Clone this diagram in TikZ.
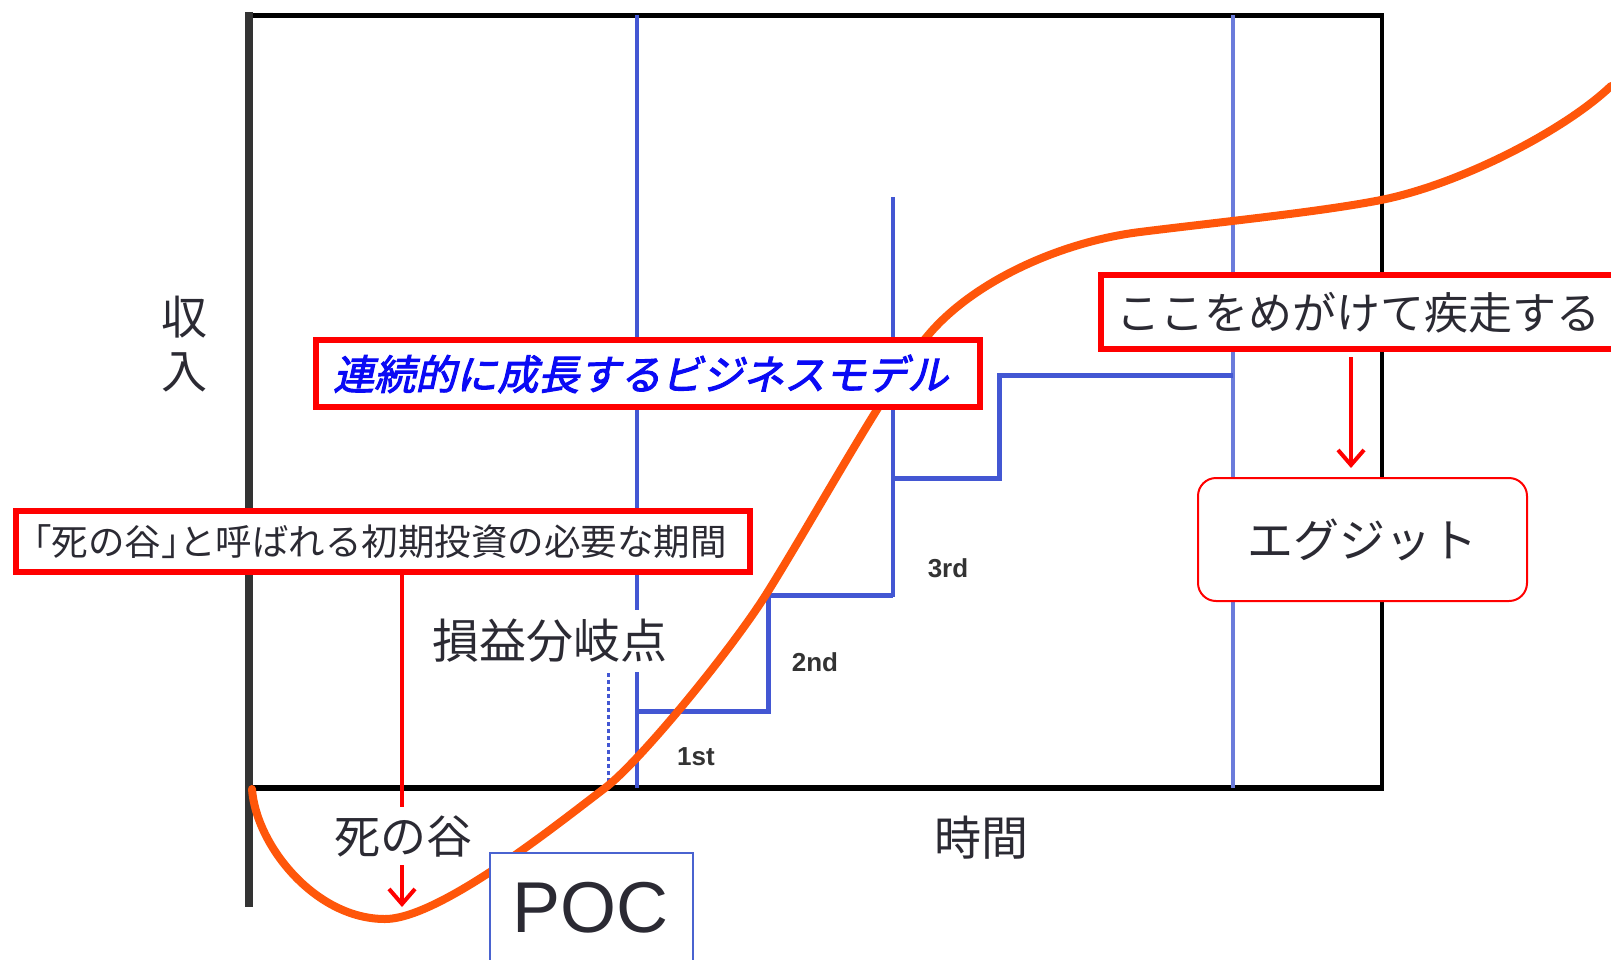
\documentclass[tikz,border=0pt]{standalone}
\usepackage{fontspec}
\newfontfamily\jp{Noto Sans CJK JP}
\newfontfamily\jphalt{Noto Sans CJK JP}[RawFeature=+halt]
\newfontfamily\jpbi{Noto Sans CJK JP}[FakeSlant=0.22,FakeBold=2.5]
\newfontfamily\arial{Liberation Sans}
\usetikzlibrary{arrows.meta}
\definecolor{txt}{HTML}{2B2A33}
\definecolor{axisgray}{HTML}{333333}
\definecolor{bl}{HTML}{4357D3}
\definecolor{bllight}{HTML}{6B7BDB}
\definecolor{curvec}{HTML}{FF560A}
\definecolor{rd}{HTML}{FF0000}
\definecolor{mblue}{HTML}{0A0AF5}
\definecolor{pocblue}{HTML}{4A63D0}
\begin{document}
\begin{tikzpicture}[x=1pt,y=-1pt,
  redbox/.style={draw=rd, line width=6pt, fill=white, inner sep=0pt},
  jptext/.style={text=txt, inner sep=0pt},
  stepline/.style={draw=bl, line width=5pt},
  vline/.style={draw=bl, line width=3.5pt},
  redarrow/.style={draw=rd, line width=4pt, -{Straight Barb[length=15pt,width=26pt]}},
  ordinal/.style={text=axisgray, font=\arial\bfseries\fontsize{26}{28}\selectfont, inner sep=0pt}
]
\useasboundingbox (0,0) rectangle (1611,959);
\fill[white] (0,0) rectangle (1611,959);

% frame
\draw[black, line width=5pt] (245,15) -- (1384,15);
\draw[black, line width=4pt] (1382,15) -- (1382,788);
\draw[black, line width=6pt] (249,788) -- (1384,788);
\draw[axisgray, line width=8pt] (249,12) -- (249,907);

% blue verticals
\draw[vline] (637,15) -- (637,788);
\draw[vline, draw=bllight, line width=4pt] (1233,15) -- (1233,788);
\draw[vline] (893,197) -- (893,597);
\draw[draw=bl, line width=3pt, dash pattern=on 4pt off 3pt] (608,673) -- (608,788);

% steps
\draw[stepline] (637,711) -- (768,711) -- (768,595) -- (893,595);
\draw[stepline] (893,478) -- (999,478) -- (999,375) -- (1233,375);

% ordinals
\node[ordinal] (first) at (696,757) {1st};
\node[ordinal] (second) at (815,662) {2nd};
\node[ordinal] (third) at (948,568) {3rd};

% curve
\draw[curvec, line width=8pt, line cap=round, line join=round]
  (252,789) .. controls (256,845) and (315,919) .. (385,919)
  .. controls (440,919) and (560,822) .. (605,788)
  .. controls (640,761.5) and (732,649) .. (767,593)
  .. controls (817,513) and (890,379) .. (930,333)
  .. controls (975,281) and (1060,242) .. (1140,232)
  .. controls (1220,222) and (1320,212) .. (1381,200)
  .. controls (1461,184) and (1565,130) .. (1611,86);

% axis labels
\node[jptext, align=center, font=\jp\fontsize{46}{54}\selectfont] (income) at (184,344) {収\\入};
\node[jptext, font=\jp\fontsize{47}{54}\selectfont] (time) at (981,838) {時間};

% break-even
\node[jptext, fill=white, inner xsep=3pt, inner ysep=9pt, font=\jp\fontsize{47}{54}\selectfont] (bep) at (550,641) {損益分岐点};

% blue box
\node[redbox, minimum width=664pt, minimum height=67pt] (model) at (648,373.5) {};
\node[anchor=west, inner sep=0pt, text=mblue, font=\jpbi\fontsize{41}{46}\selectfont] (modeltext) at (333,374) {連続的に成長するビジネスモデル};

% left box
\node[redbox, minimum width=734pt, minimum height=61pt, font=\jp\fontsize{36.5}{42}\selectfont, text=txt] (lbox) at (383,541.5) {{\jphalt 「}死の谷{\jphalt 」}と呼ばれる初期投資の必要な期間\hspace*{6pt}};

% valley arrow
\coordinate (valley) at (402,907);
\draw[redarrow] (valley |- lbox.south) -- (valley);
\node[jptext, fill=white, inner xsep=4pt, inner ysep=8pt, font=\jp\fontsize{46}{54}\selectfont] (death) at (403,836) {死の谷};

% koko box
\node[redbox, minimum width=524pt, minimum height=74pt] (koko) at (1363,312) {};
\node[anchor=west, jptext, font=\jp\fontsize{44}{50}\selectfont] (kokotext) at (1116,313) {ここをめがけて疾走する};

% exit box
\node[draw=rd, line width=2pt, fill=white, rounded corners=18pt, minimum width=329pt, minimum height=123pt, inner sep=0pt, text=txt, font=\jp\fontsize{46}{54}\selectfont] (exit) at (1362.5,539.5) {エグジット};
\coordinate (ax) at (1351,0);
\draw[redarrow, shorten <=5pt, shorten >=9pt] (ax |- koko.south) -- (ax |- exit.north);

% POC box
\node[draw=pocblue, line width=1.5pt, fill=white, minimum width=203pt, minimum height=122pt, inner sep=0pt] (pocbox) at (591.5,914) {};
\node[inner sep=0pt, text=txt, font=\arial\fontsize{72}{80}\selectfont] (poc) at (590.5,908) {POC};
\end{tikzpicture}
\end{document}
